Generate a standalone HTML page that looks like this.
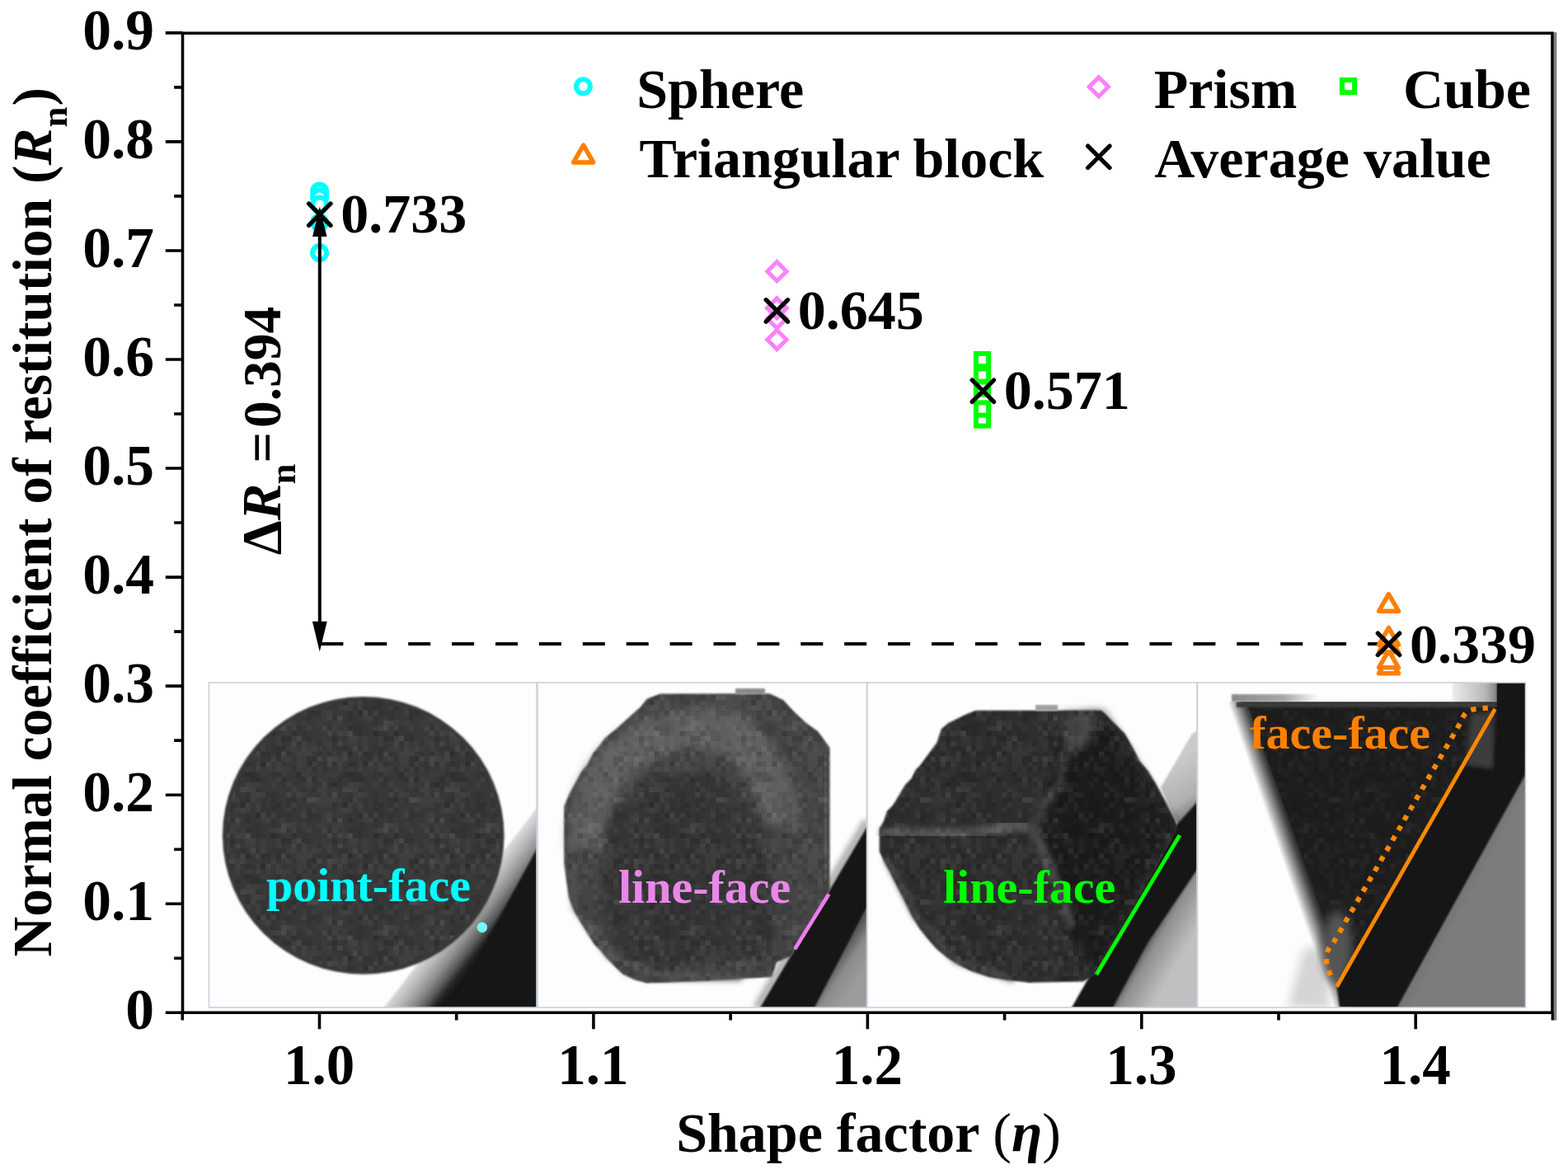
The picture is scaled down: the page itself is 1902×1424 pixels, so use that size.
<!DOCTYPE html><html><head><meta charset="utf-8"><style>html,body{margin:0;padding:0;background:#fff;}svg{display:block}text{font-family:"Liberation Serif","Times New Roman",serif;font-weight:bold}</style></head><body>
<svg width="1902" height="1424" viewBox="0 0 1902 1424">
<rect width="1902" height="1424" fill="#ffffff"/>
<defs>
<pattern id="tex" patternUnits="userSpaceOnUse" width="124.0" height="124.0"><rect x="0.0" y="0.0" width="6.2" height="6.2" fill="#000" fill-opacity="0.098"/><rect x="0.0" y="12.4" width="6.2" height="6.2" fill="#fff" fill-opacity="0.035"/><rect x="0.0" y="18.6" width="6.2" height="6.2" fill="#000" fill-opacity="0.041"/><rect x="0.0" y="24.8" width="6.2" height="6.2" fill="#000" fill-opacity="0.106"/><rect x="0.0" y="37.2" width="6.2" height="6.2" fill="#fff" fill-opacity="0.017"/><rect x="0.0" y="43.4" width="6.2" height="6.2" fill="#fff" fill-opacity="0.038"/><rect x="0.0" y="49.6" width="6.2" height="6.2" fill="#000" fill-opacity="0.097"/><rect x="0.0" y="55.8" width="6.2" height="6.2" fill="#000" fill-opacity="0.103"/><rect x="0.0" y="62.0" width="6.2" height="6.2" fill="#fff" fill-opacity="0.025"/><rect x="0.0" y="68.2" width="6.2" height="6.2" fill="#fff" fill-opacity="0.017"/><rect x="0.0" y="74.4" width="6.2" height="6.2" fill="#fff" fill-opacity="0.054"/><rect x="0.0" y="80.6" width="6.2" height="6.2" fill="#fff" fill-opacity="0.034"/><rect x="0.0" y="99.2" width="6.2" height="6.2" fill="#fff" fill-opacity="0.090"/><rect x="0.0" y="111.6" width="6.2" height="6.2" fill="#000" fill-opacity="0.063"/><rect x="0.0" y="117.8" width="6.2" height="6.2" fill="#000" fill-opacity="0.091"/><rect x="6.2" y="31.0" width="6.2" height="6.2" fill="#fff" fill-opacity="0.024"/><rect x="6.2" y="37.2" width="6.2" height="6.2" fill="#fff" fill-opacity="0.038"/><rect x="6.2" y="49.6" width="6.2" height="6.2" fill="#000" fill-opacity="0.143"/><rect x="6.2" y="55.8" width="6.2" height="6.2" fill="#fff" fill-opacity="0.025"/><rect x="6.2" y="62.0" width="6.2" height="6.2" fill="#000" fill-opacity="0.114"/><rect x="6.2" y="74.4" width="6.2" height="6.2" fill="#000" fill-opacity="0.118"/><rect x="6.2" y="86.8" width="6.2" height="6.2" fill="#000" fill-opacity="0.062"/><rect x="6.2" y="99.2" width="6.2" height="6.2" fill="#fff" fill-opacity="0.090"/><rect x="6.2" y="111.6" width="6.2" height="6.2" fill="#fff" fill-opacity="0.029"/><rect x="6.2" y="117.8" width="6.2" height="6.2" fill="#000" fill-opacity="0.106"/><rect x="12.4" y="6.2" width="6.2" height="6.2" fill="#fff" fill-opacity="0.023"/><rect x="12.4" y="31.0" width="6.2" height="6.2" fill="#000" fill-opacity="0.080"/><rect x="12.4" y="37.2" width="6.2" height="6.2" fill="#fff" fill-opacity="0.020"/><rect x="12.4" y="43.4" width="6.2" height="6.2" fill="#000" fill-opacity="0.065"/><rect x="12.4" y="49.6" width="6.2" height="6.2" fill="#fff" fill-opacity="0.066"/><rect x="12.4" y="55.8" width="6.2" height="6.2" fill="#000" fill-opacity="0.040"/><rect x="12.4" y="62.0" width="6.2" height="6.2" fill="#fff" fill-opacity="0.024"/><rect x="12.4" y="74.4" width="6.2" height="6.2" fill="#fff" fill-opacity="0.033"/><rect x="12.4" y="80.6" width="6.2" height="6.2" fill="#000" fill-opacity="0.048"/><rect x="12.4" y="86.8" width="6.2" height="6.2" fill="#fff" fill-opacity="0.035"/><rect x="12.4" y="99.2" width="6.2" height="6.2" fill="#fff" fill-opacity="0.044"/><rect x="12.4" y="105.4" width="6.2" height="6.2" fill="#fff" fill-opacity="0.022"/><rect x="12.4" y="117.8" width="6.2" height="6.2" fill="#000" fill-opacity="0.062"/><rect x="18.6" y="0.0" width="6.2" height="6.2" fill="#fff" fill-opacity="0.027"/><rect x="18.6" y="6.2" width="6.2" height="6.2" fill="#fff" fill-opacity="0.016"/><rect x="18.6" y="12.4" width="6.2" height="6.2" fill="#fff" fill-opacity="0.057"/><rect x="18.6" y="24.8" width="6.2" height="6.2" fill="#fff" fill-opacity="0.019"/><rect x="18.6" y="31.0" width="6.2" height="6.2" fill="#fff" fill-opacity="0.018"/><rect x="18.6" y="55.8" width="6.2" height="6.2" fill="#000" fill-opacity="0.048"/><rect x="18.6" y="62.0" width="6.2" height="6.2" fill="#000" fill-opacity="0.081"/><rect x="18.6" y="74.4" width="6.2" height="6.2" fill="#fff" fill-opacity="0.021"/><rect x="18.6" y="80.6" width="6.2" height="6.2" fill="#fff" fill-opacity="0.053"/><rect x="18.6" y="86.8" width="6.2" height="6.2" fill="#fff" fill-opacity="0.034"/><rect x="18.6" y="93.0" width="6.2" height="6.2" fill="#fff" fill-opacity="0.037"/><rect x="18.6" y="99.2" width="6.2" height="6.2" fill="#fff" fill-opacity="0.027"/><rect x="18.6" y="105.4" width="6.2" height="6.2" fill="#fff" fill-opacity="0.024"/><rect x="18.6" y="117.8" width="6.2" height="6.2" fill="#fff" fill-opacity="0.027"/><rect x="24.8" y="0.0" width="6.2" height="6.2" fill="#fff" fill-opacity="0.062"/><rect x="24.8" y="12.4" width="6.2" height="6.2" fill="#000" fill-opacity="0.056"/><rect x="24.8" y="18.6" width="6.2" height="6.2" fill="#fff" fill-opacity="0.069"/><rect x="24.8" y="31.0" width="6.2" height="6.2" fill="#fff" fill-opacity="0.034"/><rect x="24.8" y="37.2" width="6.2" height="6.2" fill="#fff" fill-opacity="0.031"/><rect x="24.8" y="43.4" width="6.2" height="6.2" fill="#000" fill-opacity="0.091"/><rect x="24.8" y="49.6" width="6.2" height="6.2" fill="#fff" fill-opacity="0.085"/><rect x="24.8" y="55.8" width="6.2" height="6.2" fill="#fff" fill-opacity="0.062"/><rect x="24.8" y="68.2" width="6.2" height="6.2" fill="#fff" fill-opacity="0.026"/><rect x="24.8" y="80.6" width="6.2" height="6.2" fill="#000" fill-opacity="0.071"/><rect x="24.8" y="99.2" width="6.2" height="6.2" fill="#fff" fill-opacity="0.039"/><rect x="24.8" y="105.4" width="6.2" height="6.2" fill="#fff" fill-opacity="0.025"/><rect x="24.8" y="117.8" width="6.2" height="6.2" fill="#fff" fill-opacity="0.047"/><rect x="31.0" y="0.0" width="6.2" height="6.2" fill="#000" fill-opacity="0.061"/><rect x="31.0" y="6.2" width="6.2" height="6.2" fill="#fff" fill-opacity="0.028"/><rect x="31.0" y="12.4" width="6.2" height="6.2" fill="#fff" fill-opacity="0.039"/><rect x="31.0" y="24.8" width="6.2" height="6.2" fill="#000" fill-opacity="0.143"/><rect x="31.0" y="31.0" width="6.2" height="6.2" fill="#000" fill-opacity="0.073"/><rect x="31.0" y="43.4" width="6.2" height="6.2" fill="#fff" fill-opacity="0.018"/><rect x="31.0" y="49.6" width="6.2" height="6.2" fill="#fff" fill-opacity="0.054"/><rect x="31.0" y="55.8" width="6.2" height="6.2" fill="#000" fill-opacity="0.080"/><rect x="31.0" y="68.2" width="6.2" height="6.2" fill="#fff" fill-opacity="0.023"/><rect x="31.0" y="80.6" width="6.2" height="6.2" fill="#000" fill-opacity="0.190"/><rect x="31.0" y="86.8" width="6.2" height="6.2" fill="#fff" fill-opacity="0.028"/><rect x="31.0" y="93.0" width="6.2" height="6.2" fill="#fff" fill-opacity="0.081"/><rect x="31.0" y="99.2" width="6.2" height="6.2" fill="#fff" fill-opacity="0.035"/><rect x="31.0" y="105.4" width="6.2" height="6.2" fill="#000" fill-opacity="0.073"/><rect x="31.0" y="111.6" width="6.2" height="6.2" fill="#000" fill-opacity="0.033"/><rect x="37.2" y="0.0" width="6.2" height="6.2" fill="#fff" fill-opacity="0.087"/><rect x="37.2" y="6.2" width="6.2" height="6.2" fill="#fff" fill-opacity="0.022"/><rect x="37.2" y="18.6" width="6.2" height="6.2" fill="#fff" fill-opacity="0.055"/><rect x="37.2" y="31.0" width="6.2" height="6.2" fill="#fff" fill-opacity="0.065"/><rect x="37.2" y="37.2" width="6.2" height="6.2" fill="#000" fill-opacity="0.055"/><rect x="37.2" y="43.4" width="6.2" height="6.2" fill="#000" fill-opacity="0.038"/><rect x="37.2" y="49.6" width="6.2" height="6.2" fill="#fff" fill-opacity="0.025"/><rect x="37.2" y="55.8" width="6.2" height="6.2" fill="#fff" fill-opacity="0.050"/><rect x="37.2" y="62.0" width="6.2" height="6.2" fill="#fff" fill-opacity="0.023"/><rect x="37.2" y="74.4" width="6.2" height="6.2" fill="#000" fill-opacity="0.146"/><rect x="37.2" y="80.6" width="6.2" height="6.2" fill="#000" fill-opacity="0.057"/><rect x="37.2" y="86.8" width="6.2" height="6.2" fill="#000" fill-opacity="0.049"/><rect x="37.2" y="93.0" width="6.2" height="6.2" fill="#000" fill-opacity="0.043"/><rect x="37.2" y="99.2" width="6.2" height="6.2" fill="#fff" fill-opacity="0.021"/><rect x="37.2" y="111.6" width="6.2" height="6.2" fill="#fff" fill-opacity="0.028"/><rect x="43.4" y="12.4" width="6.2" height="6.2" fill="#fff" fill-opacity="0.015"/><rect x="43.4" y="18.6" width="6.2" height="6.2" fill="#fff" fill-opacity="0.030"/><rect x="43.4" y="24.8" width="6.2" height="6.2" fill="#000" fill-opacity="0.038"/><rect x="43.4" y="37.2" width="6.2" height="6.2" fill="#000" fill-opacity="0.109"/><rect x="43.4" y="43.4" width="6.2" height="6.2" fill="#fff" fill-opacity="0.056"/><rect x="43.4" y="49.6" width="6.2" height="6.2" fill="#fff" fill-opacity="0.051"/><rect x="43.4" y="62.0" width="6.2" height="6.2" fill="#000" fill-opacity="0.038"/><rect x="43.4" y="68.2" width="6.2" height="6.2" fill="#000" fill-opacity="0.099"/><rect x="43.4" y="86.8" width="6.2" height="6.2" fill="#fff" fill-opacity="0.076"/><rect x="43.4" y="99.2" width="6.2" height="6.2" fill="#000" fill-opacity="0.062"/><rect x="43.4" y="105.4" width="6.2" height="6.2" fill="#000" fill-opacity="0.196"/><rect x="43.4" y="111.6" width="6.2" height="6.2" fill="#fff" fill-opacity="0.049"/><rect x="49.6" y="0.0" width="6.2" height="6.2" fill="#000" fill-opacity="0.129"/><rect x="49.6" y="12.4" width="6.2" height="6.2" fill="#000" fill-opacity="0.129"/><rect x="49.6" y="18.6" width="6.2" height="6.2" fill="#fff" fill-opacity="0.090"/><rect x="49.6" y="24.8" width="6.2" height="6.2" fill="#fff" fill-opacity="0.039"/><rect x="49.6" y="31.0" width="6.2" height="6.2" fill="#fff" fill-opacity="0.020"/><rect x="49.6" y="43.4" width="6.2" height="6.2" fill="#000" fill-opacity="0.171"/><rect x="49.6" y="55.8" width="6.2" height="6.2" fill="#000" fill-opacity="0.124"/><rect x="49.6" y="62.0" width="6.2" height="6.2" fill="#fff" fill-opacity="0.021"/><rect x="49.6" y="68.2" width="6.2" height="6.2" fill="#000" fill-opacity="0.171"/><rect x="49.6" y="74.4" width="6.2" height="6.2" fill="#000" fill-opacity="0.073"/><rect x="49.6" y="80.6" width="6.2" height="6.2" fill="#fff" fill-opacity="0.043"/><rect x="49.6" y="86.8" width="6.2" height="6.2" fill="#fff" fill-opacity="0.058"/><rect x="49.6" y="93.0" width="6.2" height="6.2" fill="#000" fill-opacity="0.094"/><rect x="49.6" y="99.2" width="6.2" height="6.2" fill="#000" fill-opacity="0.123"/><rect x="49.6" y="105.4" width="6.2" height="6.2" fill="#fff" fill-opacity="0.031"/><rect x="49.6" y="111.6" width="6.2" height="6.2" fill="#fff" fill-opacity="0.030"/><rect x="49.6" y="117.8" width="6.2" height="6.2" fill="#000" fill-opacity="0.079"/><rect x="55.8" y="0.0" width="6.2" height="6.2" fill="#000" fill-opacity="0.056"/><rect x="55.8" y="6.2" width="6.2" height="6.2" fill="#000" fill-opacity="0.056"/><rect x="55.8" y="12.4" width="6.2" height="6.2" fill="#000" fill-opacity="0.095"/><rect x="55.8" y="18.6" width="6.2" height="6.2" fill="#000" fill-opacity="0.054"/><rect x="55.8" y="24.8" width="6.2" height="6.2" fill="#fff" fill-opacity="0.044"/><rect x="55.8" y="31.0" width="6.2" height="6.2" fill="#fff" fill-opacity="0.024"/><rect x="55.8" y="37.2" width="6.2" height="6.2" fill="#fff" fill-opacity="0.072"/><rect x="55.8" y="55.8" width="6.2" height="6.2" fill="#000" fill-opacity="0.079"/><rect x="55.8" y="68.2" width="6.2" height="6.2" fill="#000" fill-opacity="0.105"/><rect x="55.8" y="74.4" width="6.2" height="6.2" fill="#000" fill-opacity="0.142"/><rect x="55.8" y="80.6" width="6.2" height="6.2" fill="#fff" fill-opacity="0.024"/><rect x="55.8" y="86.8" width="6.2" height="6.2" fill="#fff" fill-opacity="0.050"/><rect x="55.8" y="93.0" width="6.2" height="6.2" fill="#fff" fill-opacity="0.029"/><rect x="55.8" y="99.2" width="6.2" height="6.2" fill="#fff" fill-opacity="0.047"/><rect x="55.8" y="111.6" width="6.2" height="6.2" fill="#000" fill-opacity="0.057"/><rect x="62.0" y="6.2" width="6.2" height="6.2" fill="#000" fill-opacity="0.089"/><rect x="62.0" y="12.4" width="6.2" height="6.2" fill="#000" fill-opacity="0.135"/><rect x="62.0" y="18.6" width="6.2" height="6.2" fill="#000" fill-opacity="0.119"/><rect x="62.0" y="37.2" width="6.2" height="6.2" fill="#000" fill-opacity="0.038"/><rect x="62.0" y="43.4" width="6.2" height="6.2" fill="#fff" fill-opacity="0.050"/><rect x="62.0" y="55.8" width="6.2" height="6.2" fill="#fff" fill-opacity="0.020"/><rect x="62.0" y="62.0" width="6.2" height="6.2" fill="#fff" fill-opacity="0.043"/><rect x="62.0" y="68.2" width="6.2" height="6.2" fill="#000" fill-opacity="0.066"/><rect x="62.0" y="74.4" width="6.2" height="6.2" fill="#000" fill-opacity="0.158"/><rect x="62.0" y="80.6" width="6.2" height="6.2" fill="#fff" fill-opacity="0.026"/><rect x="62.0" y="86.8" width="6.2" height="6.2" fill="#000" fill-opacity="0.055"/><rect x="62.0" y="93.0" width="6.2" height="6.2" fill="#fff" fill-opacity="0.046"/><rect x="62.0" y="105.4" width="6.2" height="6.2" fill="#fff" fill-opacity="0.035"/><rect x="62.0" y="111.6" width="6.2" height="6.2" fill="#fff" fill-opacity="0.027"/><rect x="62.0" y="117.8" width="6.2" height="6.2" fill="#000" fill-opacity="0.166"/><rect x="68.2" y="0.0" width="6.2" height="6.2" fill="#fff" fill-opacity="0.025"/><rect x="68.2" y="6.2" width="6.2" height="6.2" fill="#000" fill-opacity="0.054"/><rect x="68.2" y="12.4" width="6.2" height="6.2" fill="#000" fill-opacity="0.060"/><rect x="68.2" y="18.6" width="6.2" height="6.2" fill="#000" fill-opacity="0.035"/><rect x="68.2" y="24.8" width="6.2" height="6.2" fill="#fff" fill-opacity="0.027"/><rect x="68.2" y="31.0" width="6.2" height="6.2" fill="#fff" fill-opacity="0.031"/><rect x="68.2" y="37.2" width="6.2" height="6.2" fill="#fff" fill-opacity="0.035"/><rect x="68.2" y="43.4" width="6.2" height="6.2" fill="#000" fill-opacity="0.133"/><rect x="68.2" y="49.6" width="6.2" height="6.2" fill="#000" fill-opacity="0.047"/><rect x="68.2" y="55.8" width="6.2" height="6.2" fill="#000" fill-opacity="0.190"/><rect x="68.2" y="68.2" width="6.2" height="6.2" fill="#fff" fill-opacity="0.021"/><rect x="68.2" y="74.4" width="6.2" height="6.2" fill="#000" fill-opacity="0.061"/><rect x="68.2" y="93.0" width="6.2" height="6.2" fill="#fff" fill-opacity="0.035"/><rect x="68.2" y="99.2" width="6.2" height="6.2" fill="#000" fill-opacity="0.066"/><rect x="68.2" y="105.4" width="6.2" height="6.2" fill="#000" fill-opacity="0.066"/><rect x="68.2" y="111.6" width="6.2" height="6.2" fill="#000" fill-opacity="0.061"/><rect x="68.2" y="117.8" width="6.2" height="6.2" fill="#fff" fill-opacity="0.061"/><rect x="74.4" y="0.0" width="6.2" height="6.2" fill="#fff" fill-opacity="0.038"/><rect x="74.4" y="43.4" width="6.2" height="6.2" fill="#000" fill-opacity="0.101"/><rect x="74.4" y="49.6" width="6.2" height="6.2" fill="#000" fill-opacity="0.051"/><rect x="74.4" y="55.8" width="6.2" height="6.2" fill="#fff" fill-opacity="0.058"/><rect x="74.4" y="62.0" width="6.2" height="6.2" fill="#fff" fill-opacity="0.019"/><rect x="74.4" y="93.0" width="6.2" height="6.2" fill="#000" fill-opacity="0.052"/><rect x="74.4" y="111.6" width="6.2" height="6.2" fill="#000" fill-opacity="0.060"/><rect x="74.4" y="117.8" width="6.2" height="6.2" fill="#000" fill-opacity="0.063"/><rect x="80.6" y="0.0" width="6.2" height="6.2" fill="#000" fill-opacity="0.080"/><rect x="80.6" y="6.2" width="6.2" height="6.2" fill="#000" fill-opacity="0.085"/><rect x="80.6" y="12.4" width="6.2" height="6.2" fill="#fff" fill-opacity="0.031"/><rect x="80.6" y="18.6" width="6.2" height="6.2" fill="#000" fill-opacity="0.189"/><rect x="80.6" y="31.0" width="6.2" height="6.2" fill="#000" fill-opacity="0.049"/><rect x="80.6" y="37.2" width="6.2" height="6.2" fill="#000" fill-opacity="0.050"/><rect x="80.6" y="49.6" width="6.2" height="6.2" fill="#fff" fill-opacity="0.039"/><rect x="80.6" y="68.2" width="6.2" height="6.2" fill="#000" fill-opacity="0.049"/><rect x="80.6" y="80.6" width="6.2" height="6.2" fill="#fff" fill-opacity="0.032"/><rect x="80.6" y="93.0" width="6.2" height="6.2" fill="#000" fill-opacity="0.092"/><rect x="80.6" y="99.2" width="6.2" height="6.2" fill="#000" fill-opacity="0.101"/><rect x="80.6" y="105.4" width="6.2" height="6.2" fill="#000" fill-opacity="0.089"/><rect x="80.6" y="111.6" width="6.2" height="6.2" fill="#000" fill-opacity="0.111"/><rect x="80.6" y="117.8" width="6.2" height="6.2" fill="#fff" fill-opacity="0.038"/><rect x="86.8" y="12.4" width="6.2" height="6.2" fill="#fff" fill-opacity="0.051"/><rect x="86.8" y="18.6" width="6.2" height="6.2" fill="#000" fill-opacity="0.053"/><rect x="86.8" y="24.8" width="6.2" height="6.2" fill="#fff" fill-opacity="0.026"/><rect x="86.8" y="31.0" width="6.2" height="6.2" fill="#fff" fill-opacity="0.028"/><rect x="86.8" y="37.2" width="6.2" height="6.2" fill="#000" fill-opacity="0.124"/><rect x="86.8" y="43.4" width="6.2" height="6.2" fill="#000" fill-opacity="0.125"/><rect x="86.8" y="49.6" width="6.2" height="6.2" fill="#000" fill-opacity="0.074"/><rect x="86.8" y="55.8" width="6.2" height="6.2" fill="#fff" fill-opacity="0.032"/><rect x="86.8" y="62.0" width="6.2" height="6.2" fill="#fff" fill-opacity="0.045"/><rect x="86.8" y="68.2" width="6.2" height="6.2" fill="#000" fill-opacity="0.098"/><rect x="86.8" y="74.4" width="6.2" height="6.2" fill="#fff" fill-opacity="0.037"/><rect x="86.8" y="93.0" width="6.2" height="6.2" fill="#000" fill-opacity="0.044"/><rect x="86.8" y="105.4" width="6.2" height="6.2" fill="#000" fill-opacity="0.145"/><rect x="86.8" y="111.6" width="6.2" height="6.2" fill="#000" fill-opacity="0.080"/><rect x="86.8" y="117.8" width="6.2" height="6.2" fill="#000" fill-opacity="0.099"/><rect x="93.0" y="0.0" width="6.2" height="6.2" fill="#fff" fill-opacity="0.017"/><rect x="93.0" y="6.2" width="6.2" height="6.2" fill="#fff" fill-opacity="0.073"/><rect x="93.0" y="12.4" width="6.2" height="6.2" fill="#fff" fill-opacity="0.090"/><rect x="93.0" y="24.8" width="6.2" height="6.2" fill="#000" fill-opacity="0.138"/><rect x="93.0" y="31.0" width="6.2" height="6.2" fill="#000" fill-opacity="0.033"/><rect x="93.0" y="37.2" width="6.2" height="6.2" fill="#000" fill-opacity="0.075"/><rect x="93.0" y="43.4" width="6.2" height="6.2" fill="#fff" fill-opacity="0.069"/><rect x="93.0" y="49.6" width="6.2" height="6.2" fill="#fff" fill-opacity="0.020"/><rect x="93.0" y="55.8" width="6.2" height="6.2" fill="#000" fill-opacity="0.058"/><rect x="93.0" y="62.0" width="6.2" height="6.2" fill="#fff" fill-opacity="0.033"/><rect x="93.0" y="68.2" width="6.2" height="6.2" fill="#fff" fill-opacity="0.019"/><rect x="93.0" y="74.4" width="6.2" height="6.2" fill="#000" fill-opacity="0.130"/><rect x="93.0" y="80.6" width="6.2" height="6.2" fill="#000" fill-opacity="0.043"/><rect x="93.0" y="117.8" width="6.2" height="6.2" fill="#000" fill-opacity="0.047"/><rect x="99.2" y="0.0" width="6.2" height="6.2" fill="#000" fill-opacity="0.072"/><rect x="99.2" y="6.2" width="6.2" height="6.2" fill="#fff" fill-opacity="0.053"/><rect x="99.2" y="18.6" width="6.2" height="6.2" fill="#fff" fill-opacity="0.015"/><rect x="99.2" y="24.8" width="6.2" height="6.2" fill="#000" fill-opacity="0.128"/><rect x="99.2" y="37.2" width="6.2" height="6.2" fill="#fff" fill-opacity="0.029"/><rect x="99.2" y="43.4" width="6.2" height="6.2" fill="#000" fill-opacity="0.103"/><rect x="99.2" y="49.6" width="6.2" height="6.2" fill="#fff" fill-opacity="0.038"/><rect x="99.2" y="62.0" width="6.2" height="6.2" fill="#fff" fill-opacity="0.014"/><rect x="99.2" y="80.6" width="6.2" height="6.2" fill="#fff" fill-opacity="0.042"/><rect x="99.2" y="86.8" width="6.2" height="6.2" fill="#000" fill-opacity="0.032"/><rect x="99.2" y="93.0" width="6.2" height="6.2" fill="#fff" fill-opacity="0.055"/><rect x="99.2" y="99.2" width="6.2" height="6.2" fill="#000" fill-opacity="0.063"/><rect x="99.2" y="105.4" width="6.2" height="6.2" fill="#000" fill-opacity="0.075"/><rect x="99.2" y="111.6" width="6.2" height="6.2" fill="#fff" fill-opacity="0.025"/><rect x="99.2" y="117.8" width="6.2" height="6.2" fill="#000" fill-opacity="0.085"/><rect x="105.4" y="6.2" width="6.2" height="6.2" fill="#fff" fill-opacity="0.032"/><rect x="105.4" y="12.4" width="6.2" height="6.2" fill="#fff" fill-opacity="0.042"/><rect x="105.4" y="18.6" width="6.2" height="6.2" fill="#000" fill-opacity="0.142"/><rect x="105.4" y="24.8" width="6.2" height="6.2" fill="#fff" fill-opacity="0.018"/><rect x="105.4" y="31.0" width="6.2" height="6.2" fill="#fff" fill-opacity="0.066"/><rect x="105.4" y="37.2" width="6.2" height="6.2" fill="#fff" fill-opacity="0.042"/><rect x="105.4" y="49.6" width="6.2" height="6.2" fill="#000" fill-opacity="0.048"/><rect x="105.4" y="62.0" width="6.2" height="6.2" fill="#000" fill-opacity="0.092"/><rect x="105.4" y="86.8" width="6.2" height="6.2" fill="#fff" fill-opacity="0.041"/><rect x="105.4" y="99.2" width="6.2" height="6.2" fill="#000" fill-opacity="0.117"/><rect x="105.4" y="105.4" width="6.2" height="6.2" fill="#fff" fill-opacity="0.037"/><rect x="105.4" y="111.6" width="6.2" height="6.2" fill="#000" fill-opacity="0.086"/><rect x="105.4" y="117.8" width="6.2" height="6.2" fill="#000" fill-opacity="0.036"/><rect x="111.6" y="12.4" width="6.2" height="6.2" fill="#000" fill-opacity="0.080"/><rect x="111.6" y="24.8" width="6.2" height="6.2" fill="#fff" fill-opacity="0.076"/><rect x="111.6" y="31.0" width="6.2" height="6.2" fill="#000" fill-opacity="0.049"/><rect x="111.6" y="43.4" width="6.2" height="6.2" fill="#fff" fill-opacity="0.039"/><rect x="111.6" y="49.6" width="6.2" height="6.2" fill="#fff" fill-opacity="0.026"/><rect x="111.6" y="55.8" width="6.2" height="6.2" fill="#fff" fill-opacity="0.027"/><rect x="111.6" y="62.0" width="6.2" height="6.2" fill="#fff" fill-opacity="0.030"/><rect x="111.6" y="68.2" width="6.2" height="6.2" fill="#000" fill-opacity="0.157"/><rect x="111.6" y="74.4" width="6.2" height="6.2" fill="#000" fill-opacity="0.069"/><rect x="111.6" y="86.8" width="6.2" height="6.2" fill="#fff" fill-opacity="0.017"/><rect x="111.6" y="93.0" width="6.2" height="6.2" fill="#fff" fill-opacity="0.045"/><rect x="111.6" y="99.2" width="6.2" height="6.2" fill="#fff" fill-opacity="0.016"/><rect x="117.8" y="6.2" width="6.2" height="6.2" fill="#fff" fill-opacity="0.024"/><rect x="117.8" y="18.6" width="6.2" height="6.2" fill="#000" fill-opacity="0.065"/><rect x="117.8" y="24.8" width="6.2" height="6.2" fill="#000" fill-opacity="0.068"/><rect x="117.8" y="31.0" width="6.2" height="6.2" fill="#fff" fill-opacity="0.038"/><rect x="117.8" y="37.2" width="6.2" height="6.2" fill="#fff" fill-opacity="0.045"/><rect x="117.8" y="43.4" width="6.2" height="6.2" fill="#fff" fill-opacity="0.035"/><rect x="117.8" y="49.6" width="6.2" height="6.2" fill="#fff" fill-opacity="0.030"/><rect x="117.8" y="55.8" width="6.2" height="6.2" fill="#fff" fill-opacity="0.029"/><rect x="117.8" y="68.2" width="6.2" height="6.2" fill="#fff" fill-opacity="0.023"/><rect x="117.8" y="74.4" width="6.2" height="6.2" fill="#000" fill-opacity="0.084"/><rect x="117.8" y="86.8" width="6.2" height="6.2" fill="#000" fill-opacity="0.059"/><rect x="117.8" y="93.0" width="6.2" height="6.2" fill="#fff" fill-opacity="0.025"/><rect x="117.8" y="99.2" width="6.2" height="6.2" fill="#000" fill-opacity="0.046"/><rect x="117.8" y="111.6" width="6.2" height="6.2" fill="#fff" fill-opacity="0.014"/><rect x="117.8" y="117.8" width="6.2" height="6.2" fill="#fff" fill-opacity="0.047"/></pattern>
<clipPath id="c1"><rect x="253.5" y="828" width="397.5" height="394"/></clipPath>
<clipPath id="c2"><rect x="652" y="828" width="399.5" height="394"/></clipPath>
<clipPath id="c3"><rect x="1052" y="828" width="400" height="394"/></clipPath>
<clipPath id="c4"><rect x="1452.5" y="828" width="398" height="394"/></clipPath>
<filter id="b1" x="-5%" y="-5%" width="110%" height="110%"><feGaussianBlur stdDeviation="1.3"/></filter>
<filter id="b3" x="-10%" y="-10%" width="120%" height="120%"><feGaussianBlur stdDeviation="3"/></filter>
<filter id="b6" x="-20%" y="-20%" width="140%" height="140%"><feGaussianBlur stdDeviation="6"/></filter>
<filter id="b12" x="-30%" y="-30%" width="160%" height="160%"><feGaussianBlur stdDeviation="12"/></filter>
<linearGradient id="g1" gradientUnits="userSpaceOnUse" x1="555" y1="1105" x2="600" y2="1140">
 <stop offset="0" stop-color="#dcdcdc"/><stop offset="0.25" stop-color="#b8b8b8"/><stop offset="0.5" stop-color="#8c8c8c"/><stop offset="0.7" stop-color="#5a5a5a"/><stop offset="0.85" stop-color="#262626"/><stop offset="1" stop-color="#161616"/>
</linearGradient>
<linearGradient id="g2" gradientUnits="userSpaceOnUse" x1="1015" y1="1165" x2="1045" y2="1185">
 <stop offset="0" stop-color="#5a5a5a"/><stop offset="0.4" stop-color="#8c8c8c"/><stop offset="1" stop-color="#9c9c9c"/>
</linearGradient>
<linearGradient id="g3" gradientUnits="userSpaceOnUse" x1="1392" y1="1144" x2="1430" y2="1166">
 <stop offset="0" stop-color="#606060"/><stop offset="0.2" stop-color="#8e8e8e"/><stop offset="1" stop-color="#c0c0c0"/>
</linearGradient>
<linearGradient id="g3b" gradientUnits="userSpaceOnUse" x1="1415" y1="930" x2="1450" y2="985">
 <stop offset="0" stop-color="#cacaca"/><stop offset="0.7" stop-color="#b0b0b0"/><stop offset="1" stop-color="#808080"/>
</linearGradient>
<linearGradient id="g4l" gradientUnits="userSpaceOnUse" x1="1520" y1="940" x2="1543" y2="932">
 <stop offset="0" stop-color="#b0b0b0" stop-opacity="0"/><stop offset="0.3" stop-color="#b0b0b0"/><stop offset="0.75" stop-color="#4a4a4a"/><stop offset="1" stop-color="#222222"/>
</linearGradient>
<linearGradient id="g4r" gradientUnits="userSpaceOnUse" x1="1760" y1="1060" x2="1790" y2="1076">
 <stop offset="0" stop-color="#555555"/><stop offset="0.5" stop-color="#727272"/><stop offset="1" stop-color="#7c7c7c"/>
</linearGradient>
<linearGradient id="g4t" gradientUnits="userSpaceOnUse" x1="1765" y1="840" x2="1825" y2="840">
 <stop offset="0" stop-color="#e8e8e8"/><stop offset="0.6" stop-color="#b8b8b8"/><stop offset="1" stop-color="#606060"/>
</linearGradient>
<linearGradient id="g4s" gradientUnits="userSpaceOnUse" x1="1494" y1="0" x2="1600" y2="0">
 <stop offset="0" stop-color="#8a8a8a"/><stop offset="0.6" stop-color="#a8a8a8"/><stop offset="1" stop-color="#fdfdfd"/>
</linearGradient>
<path id="prism" d="M801,841.5 L933.5,841.3 L950,849 L963,863 L978,877 L992,887 L998,895 L1006.5,907 L1006.5,1081 L959,1160 L942,1167 L936,1185 L852,1190 L785,1192.6 L771,1189 L756,1182 L750,1176.5 L743,1169.5 L735,1161 L728,1152.6 L721,1145.6 L714,1134.4 L707,1123 L697,1106 L690,1089 L684.3,1047 L684.3,978 L690.6,962.8 L697.6,950.2 L706,934.7 L712.4,927.7 L719.4,913.7 L726.4,905.2 L733.5,895.4 L740.5,889.8 L747.5,884 L755.2,877 L763,870 L770.7,863 L777,857.5 L784.7,847.7 Z"/>
<path id="cube" d="M1184,861.7 L1336,861.7 L1343.3,868.7 L1354.5,880 L1364.4,889.8 L1374.2,906.7 L1382.6,923.5 L1392.4,934.7 L1400.9,948.8 L1407.9,961.4 L1416.3,976.9 L1424.8,993.7 L1429,1005 L1330,1182 L1314,1190.5 L1248.6,1192 L1220.5,1188.4 L1199.5,1185 L1178.4,1177.9 L1164.4,1170.9 L1150.3,1162.4 L1136.3,1151.2 L1125,1138.6 L1115.2,1126 L1106.8,1112 L1097,1092 L1088.5,1075.4 L1080,1058.5 L1073,1046 L1066.7,1033 L1066.7,1005 L1071.7,996.5 L1075.9,983.9 L1082.9,976.9 L1089.9,965.6 L1098.3,951.6 L1105.4,944.6 L1111,933.3 L1116.6,927.7 L1127.8,912.3 L1136.3,901 L1141.9,884.2 L1150.3,877 L1172.8,866 Z"/>
</defs>
<g id="panels">
<!-- ===== panel 1 ===== -->
<rect x="253.5" y="828" width="397.5" height="394" fill="#fdfdfd"/>
<g clip-path="url(#c1)">
<polygon points="466,1222 651,980 660,980 660,1230 460,1230" fill="url(#g1)" filter="url(#b1)"/>
<polygon points="546,1222 651,1030 660,1030 660,1230 540,1230" fill="#151515" filter="url(#b1)"/>
<ellipse cx="440.75" cy="1013.4" rx="170.8" ry="168.4" fill="#393939" filter="url(#b1)"/>
<ellipse cx="440.75" cy="1013.4" rx="166" ry="164" fill="url(#tex)"/>
</g>
<circle cx="584.8" cy="1124.9" r="6.3" fill="#70ffff"/>
<text x="322.9" y="1092.5" font-size="58" fill="#00ffff">point-face</text>
<rect x="253.5" y="828" width="397.5" height="394" fill="none" stroke="#c9d1dd" stroke-width="1.6"/>
<!-- ===== panel 2 ===== -->
<rect x="652" y="828" width="399.5" height="394" fill="#fdfdfd"/>
<g clip-path="url(#c2)">
<path d="M918,1222 L1051.5,996" stroke="#b0b0b0" stroke-width="10" filter="url(#b3)"/>
<polygon points="922,1222 1051.5,1003 1060,1003 1060,1230 915,1230" fill="#191919" filter="url(#b1)"/>
<polygon points="988,1222 1051.5,1100 1060,1100 1060,1230 985,1230" fill="url(#g2)" filter="url(#b1)"/>
<use href="#prism" fill="#444444" filter="url(#b1)"/>
<rect x="892" y="835" width="36" height="7" fill="#8a8a8a" filter="url(#b1)"/>
<path d="M790,850 L935,848 L960,880 L900,880 L790,880 Z" fill="#4a4a4a" filter="url(#b3)"/>
<path d="M714,1030 C708,945 760,890 850,882 C905,882 935,930 950,1000" fill="none" stroke="#5e5e5e" stroke-width="48" filter="url(#b6)"/>
<path d="M735,1005 C745,962 800,938 860,936 C900,945 922,985 932,1040 L940,1160 L760,1178 L728,1100 Z" fill="#353535" filter="url(#b6)"/>
<path d="M1001,915 L1002,1070" fill="none" stroke="#555" stroke-width="6" filter="url(#b1)"/>
<path d="M692,1040 L698,1100 L740,1160 L800,1185 L900,1186" fill="none" stroke="#555" stroke-width="8" filter="url(#b3)" opacity="0.8"/>
<use href="#prism" fill="url(#tex)"/>
</g>
<path d="M964.1,1151.2 L1005.4,1084.5" stroke="#f07cf0" stroke-width="4.6"/>
<text x="750" y="1095" font-size="58" fill="#e987e9">line-face</text>
<rect x="652" y="828" width="399.5" height="394" fill="none" stroke="#c9d1dd" stroke-width="1.6"/>
<!-- ===== panel 3 ===== -->
<rect x="1052" y="828" width="400" height="394" fill="#fdfdfd"/>
<g clip-path="url(#c3)">
<polygon points="1446,890 1460,882 1460,975 1430,1003 1408,955" fill="url(#g3b)" filter="url(#b1)"/>
<polygon points="1300,1222 1425,1003 1452,973 1460,973 1460,1230 1295,1230" fill="#151515" filter="url(#b1)"/>
<polygon points="1350,1222 1392,1144 1425,1095 1452,1055 1460,1055 1460,1230 1347,1230" fill="url(#g3)" filter="url(#b1)"/>
<use href="#cube" fill="#2f2f2f" filter="url(#b1)"/>
<rect x="1256" y="855" width="27" height="7" fill="#a0a0a0" filter="url(#b1)"/>
<polygon points="1290,872 1338,864 1425,1000 1330,1182 1300,1140 1262,1010" fill="#1c1c1c" filter="url(#b6)"/>
<polygon points="1286,866 1334,864 1322,900 1296,915" fill="#4a4a4a" filter="url(#b6)"/>
<path d="M1068,1012 L1160,1012 L1250,1000" fill="none" stroke="#525252" stroke-width="14" filter="url(#b3)"/>
<path d="M1250,1000 L1280,1070 L1300,1125" fill="none" stroke="#464646" stroke-width="12" filter="url(#b3)"/>
<path d="M1250,1000 L1285,950 L1295,905" fill="none" stroke="#3a3a3a" stroke-width="10" filter="url(#b3)"/>
<path d="M1075,1040 L1110,1110 L1160,1165 L1230,1188" fill="none" stroke="#4a4a4a" stroke-width="8" filter="url(#b3)" opacity="0.8"/>
<use href="#cube" fill="url(#tex)"/>
</g>
<path d="M1330,1182 L1431,1013" stroke="#00ff00" stroke-width="4.8"/>
<text x="1144" y="1095" font-size="58" fill="#00ff00">line-face</text>
<rect x="1052" y="828" width="400" height="394" fill="none" stroke="#c9d1dd" stroke-width="1.6"/>
<!-- ===== panel 4 ===== -->
<rect x="1452.5" y="828" width="398" height="394" fill="#fdfdfd"/>
<g clip-path="url(#c4)">
<polygon points="1562,1222 1582,1150 1605,1150 1614,1222" fill="#d4d4d4" filter="url(#b6)"/>
<polygon points="1762,826 1826,826 1826,852 1762,852" fill="url(#g4t)" filter="url(#b1)"/>
<polygon points="1494,842 1600,842 1600,851.5 1494,851.5" fill="url(#g4s)" filter="url(#b1)"/>
<polygon points="1505,851.5 1816,851.5 1816,826 1860,826 1860,935 1694,1230 1635,1230" fill="#1d1d1d"/>
<polygon points="1505,851.5 1816,851.5 1816,826 1860,826 1860,935 1694,1230 1635,1230" fill="url(#tex)" opacity="0.6"/>
<polygon points="1484,851.5 1512,851.5 1649,1230 1615,1230" fill="url(#g4l)"/>
<polygon points="1694,1222 1850,935 1860,935 1860,1230 1690,1230" fill="url(#g4r)" filter="url(#b1)"/>
<polygon points="1500,851.5 1816,851.5 1816,858 1500,858" fill="#3a3a3a" filter="url(#b1)"/>
<polygon points="1784,866 1811,863 1812,932 1778,928" fill="#3e3e3e" filter="url(#b3)"/>
<ellipse cx="1622" cy="1150" rx="18" ry="45" fill="#555" filter="url(#b6)"/>
<polygon points="1816,828 1850,828 1850,940 1694,1222 1625,1222 1621.5,1197 1775,930 1812,935 1816,880" fill="#141414" filter="url(#b1)"/>
</g>
<path d="M1813.5,860 L1621.5,1197" stroke="#ff8800" stroke-width="4.8"/>
<path d="M1614,1183 C1606,1165 1608,1152 1616,1146 L1773,874 C1776,865 1780,861 1790,860 L1812,858" fill="none" stroke="#ff8800" stroke-width="6.2" stroke-dasharray="6.2 8.1"/>
<text x="1516.2" y="907.5" font-size="58" fill="#ff8000">face-face</text>
<rect x="1452.5" y="828" width="398" height="394" fill="none" stroke="#c9d1dd" stroke-width="1.6"/>
</g>

<g stroke="#000" stroke-width="3.6" fill="none" stroke-linecap="butt">
<path d="M221.5,38.400000000000006 V1230.1 M219.7,1228.3 H1884.8 M219.7,40.2 H1884.8 M1883.0,38.400000000000006 V1228.3"/>
<path d="M200.8,1228.30H221.5M200.8,1096.25H221.5M200.8,964.20H221.5M200.8,832.15H221.5M200.8,700.10H221.5M200.8,568.05H221.5M200.8,436.00H221.5M200.8,303.95H221.5M200.8,171.90H221.5M200.8,39.85H221.5M211.2,1162.27H221.5M211.2,1030.22H221.5M211.2,898.17H221.5M211.2,766.12H221.5M211.2,634.07H221.5M211.2,502.02H221.5M211.2,369.97H221.5M211.2,237.92H221.5M211.2,105.87H221.5M387.50,1228.3V1248.3M719.93,1228.3V1248.3M1052.35,1228.3V1248.3M1384.78,1228.3V1248.3M1717.20,1228.3V1248.3M221.29,1228.3V1237.6M553.71,1228.3V1237.6M886.14,1228.3V1237.6M1218.56,1228.3V1237.6M1550.99,1228.3V1237.6M1883.41,1228.3V1237.6"/>
</g>
<path d="M1886.6,39.2 V1237.6" stroke="#808080" stroke-width="3.4"/>
<text x="187.0" y="1248.1" font-size="69.5" text-anchor="end">0</text>
<text x="187.0" y="1116.0" font-size="69.5" text-anchor="end">0.1</text>
<text x="187.0" y="984.0" font-size="69.5" text-anchor="end">0.2</text>
<text x="187.0" y="851.9" font-size="69.5" text-anchor="end">0.3</text>
<text x="187.0" y="719.9" font-size="69.5" text-anchor="end">0.4</text>
<text x="187.0" y="587.8" font-size="69.5" text-anchor="end">0.5</text>
<text x="187.0" y="455.8" font-size="69.5" text-anchor="end">0.6</text>
<text x="187.0" y="323.7" font-size="69.5" text-anchor="end">0.7</text>
<text x="187.0" y="191.7" font-size="69.5" text-anchor="end">0.8</text>
<text x="187.0" y="59.6" font-size="69.5" text-anchor="end">0.9</text>
<text x="387.0" y="1315.2" font-size="69" text-anchor="middle">1.0</text>
<text x="719.4" y="1315.2" font-size="69" text-anchor="middle">1.1</text>
<text x="1051.8" y="1315.2" font-size="69" text-anchor="middle">1.2</text>
<text x="1384.3" y="1315.2" font-size="69" text-anchor="middle">1.3</text>
<text x="1716.7" y="1315.2" font-size="69" text-anchor="middle">1.4</text>
<text x="820.2" y="1397" font-size="68">Shape factor <tspan font-weight="normal">(</tspan><tspan font-style="italic">η</tspan><tspan font-weight="normal">)</tspan></text>
<g transform="translate(62.3,0) rotate(-90)"><text x="-1160.4" y="0" font-size="67.25">Normal coefficient of restitution </text><text x="-222.9" y="0" font-size="67.25" font-weight="normal">(</text><text x="-200.5" y="0" font-size="67.25" font-style="italic">R</text><text x="-154.5" y="18.3" font-size="45">n</text><text x="-128.4" y="0" font-size="67.25" font-weight="normal">)</text></g>
<g transform="translate(339.6,0) rotate(-90)"><text x="-673.3" y="0" font-size="67">Δ<tspan font-style="italic">R</tspan></text><text x="-587.5" y="18" font-size="45">n</text><text x="-561.4" y="0" font-size="66">=</text><text x="-519.1" y="0" font-size="65.5">0.394</text></g>
<path d="M389.4,781H1684" stroke="#000" stroke-width="4.2" stroke-dasharray="27 25.9"/>
<circle cx="707.4" cy="104.8" r="8.5" fill="#fff" stroke="#00ffff" stroke-width="6"/>
<path d="M707.7,176.20L719.6500000000001,196.90L695.75,196.90Z" fill="#fff" stroke="#ff7f00" stroke-width="5.5" stroke-linejoin="round"/>
<path d="M1332.8,93.7L1344.3999999999999,105.3L1332.8,116.89999999999999L1321.2,105.3Z" fill="#fff" stroke="#ff80ff" stroke-width="5"/>
<path d="M1319.6,177.10000000000002L1346.0,203.5M1319.6,203.5L1346.0,177.10000000000002" stroke="#000" stroke-width="5.3" stroke-linecap="round"/>
<rect x="1627.9" y="97.0" width="15.2" height="15.2" fill="#fff" stroke="#00ff00" stroke-width="6"/>
<text x="772.3" y="130.9" font-size="68">Sphere</text>
<text x="775.6" y="215" font-size="68">Triangular block</text>
<text x="1399.8" y="130.9" font-size="68">Prism</text>
<text x="1400.3" y="215" font-size="68">Average value</text>
<text x="1702" y="130.9" font-size="68">Cube</text>
<circle cx="387.6" cy="232" r="8.5" fill="#fff" stroke="#00ffff" stroke-width="6"/>
<circle cx="387.6" cy="239" r="8.5" fill="#fff" stroke="#00ffff" stroke-width="6"/>
<circle cx="387.6" cy="248" r="8.5" fill="#fff" stroke="#00ffff" stroke-width="6"/>
<circle cx="387.6" cy="270" r="8.5" fill="#fff" stroke="#00ffff" stroke-width="6"/>
<circle cx="387.6" cy="306.6" r="8.5" fill="#fff" stroke="#00ffff" stroke-width="6"/>
<path d="M942.4,400.4L954.0,412L942.4,423.6L930.8,412Z" fill="#fff" stroke="#ff80ff" stroke-width="5"/>
<path d="M942.4,374.79999999999995L954.0,386.4L942.4,398.0L930.8,386.4Z" fill="#fff" stroke="#ff80ff" stroke-width="5"/>
<path d="M942.4,362.4L954.0,374L942.4,385.6L930.8,374Z" fill="#fff" stroke="#ff80ff" stroke-width="5"/>
<path d="M942.4,361.9L954.0,373.5L942.4,385.1L930.8,373.5Z" fill="#fff" stroke="#ff80ff" stroke-width="5"/>
<path d="M942.4,317.59999999999997L954.0,329.2L942.4,340.8L930.8,329.2Z" fill="#fff" stroke="#ff80ff" stroke-width="5"/>
<rect x="1183.9" y="501.4" width="15.2" height="15.2" fill="#fff" stroke="#00ff00" stroke-width="6"/>
<rect x="1183.9" y="488.4" width="15.2" height="15.2" fill="#fff" stroke="#00ff00" stroke-width="6"/>
<rect x="1183.9" y="463.4" width="15.2" height="15.2" fill="#fff" stroke="#00ff00" stroke-width="6"/>
<rect x="1183.9" y="447.4" width="15.2" height="15.2" fill="#fff" stroke="#00ff00" stroke-width="6"/>
<rect x="1183.9" y="428.9" width="15.2" height="15.2" fill="#fff" stroke="#00ff00" stroke-width="6"/>
<path d="M1684.5,796.05L1696.45,816.75L1672.55,816.75Z" fill="#fff" stroke="#ff7f00" stroke-width="5.5" stroke-linejoin="round"/>
<path d="M1684.5,789.10L1696.45,809.80L1672.55,809.80Z" fill="#fff" stroke="#ff7f00" stroke-width="5.5" stroke-linejoin="round"/>
<path d="M1684.5,770.30L1696.45,791.00L1672.55,791.00Z" fill="#fff" stroke="#ff7f00" stroke-width="5.5" stroke-linejoin="round"/>
<path d="M1684.5,761.50L1696.45,782.20L1672.55,782.20Z" fill="#fff" stroke="#ff7f00" stroke-width="5.5" stroke-linejoin="round"/>
<path d="M1684.5,720.55L1696.45,741.25L1672.55,741.25Z" fill="#fff" stroke="#ff7f00" stroke-width="5.5" stroke-linejoin="round"/>
<path d="M387.8,282V758" stroke="#000" stroke-width="4"/>
<path d="M387.8,250.5L396.5,287L379.1,287Z" fill="#000"/>
<path d="M387.8,790.5L396.7,753.7L378.9,753.7Z" fill="#000"/>
<path d="M374.6,247.0L401.0,273.4M374.6,273.4L401.0,247.0" stroke="#000" stroke-width="5.3" stroke-linecap="round"/>
<text x="413.2" y="282.4" font-size="68">0.733</text>
<path d="M929.1999999999999,363.7L955.6,390.09999999999997M929.1999999999999,390.09999999999997L955.6,363.7" stroke="#000" stroke-width="5.3" stroke-linecap="round"/>
<text x="967.8" y="399.1" font-size="68">0.645</text>
<path d="M1179.2,461.0L1205.6000000000001,487.4M1179.2,487.4L1205.6000000000001,461.0" stroke="#000" stroke-width="5.3" stroke-linecap="round"/>
<text x="1217.8" y="496.4" font-size="68">0.571</text>
<path d="M1671.3,768.0999999999999L1697.7,794.5M1671.3,794.5L1697.7,768.0999999999999" stroke="#000" stroke-width="5.3" stroke-linecap="round"/>
<text x="1709.9" y="803.5" font-size="68">0.339</text>
</svg></body></html>
